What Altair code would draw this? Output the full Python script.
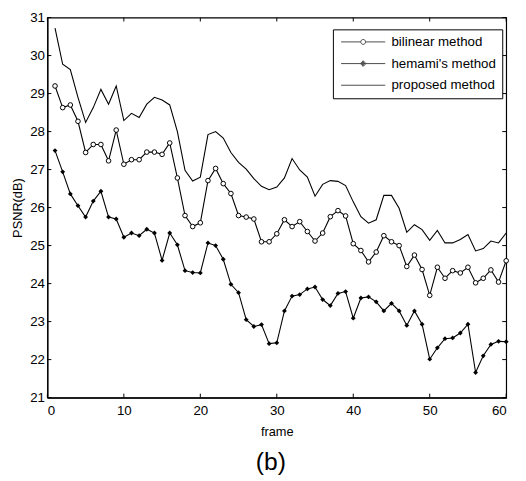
import math
import altair as alt
import pandas as pd

frames = list(range(1, 61))

bilinear = [29.2, 28.63, 28.7, 28.27, 27.45, 27.66, 27.66, 27.23, 28.04, 27.14,
            27.26, 27.26, 27.46, 27.46, 27.4, 27.7, 26.78, 25.79, 25.5, 25.6,
            26.71, 27.03, 26.63, 26.37, 25.79, 25.75, 25.7, 25.1, 25.1, 25.31,
            25.68, 25.5, 25.63, 25.37, 25.12, 25.33, 25.76, 25.92, 25.78, 25.05,
            24.87, 24.57, 24.83, 25.26, 25.1, 25.0, 24.45, 24.75, 24.37, 23.69,
            24.43, 24.14, 24.34, 24.28, 24.43, 24.02, 24.14, 24.36, 24.04, 24.6]

hemami = [27.5, 26.94, 26.36, 26.05, 25.75, 26.17, 26.43, 25.75, 25.7, 25.22,
          25.33, 25.26, 25.43, 25.33, 24.61, 25.33, 25.02, 24.34, 24.29, 24.28,
          25.07, 25.0, 24.64, 23.98, 23.76, 23.05, 22.87, 22.92, 22.42, 22.44,
          23.28, 23.67, 23.71, 23.86, 23.91, 23.58, 23.42, 23.74, 23.79, 23.09,
          23.62, 23.65, 23.52, 23.28, 23.48, 23.28, 22.9, 23.28, 22.93, 22.01,
          22.31, 22.55, 22.57, 22.7, 22.93, 21.66, 22.1, 22.4, 22.48, 22.47]

proposed = [30.72, 29.77, 29.63, 28.9, 28.24, 28.63, 29.11, 28.72, 29.2, 28.29,
            28.48, 28.37, 28.72, 28.9, 28.83, 28.7, 28.0, 26.98, 26.7, 26.8,
            27.92, 28.0, 27.83, 27.45, 27.19, 27.01, 26.76, 26.56, 26.47, 26.54,
            26.78, 27.29, 26.99, 26.8, 26.3, 26.61, 26.71, 26.69, 26.58, 26.15,
            25.76, 25.59, 25.68, 26.32, 26.32, 25.98, 25.35, 25.55, 25.42, 25.14,
            25.4, 25.07, 25.07, 25.16, 25.29, 24.86, 24.92, 25.12, 25.07, 25.33]

series_names = ["bilinear method", "hemami's method", "proposed method"]
x_ticks = [0, 10, 20, 30, 40, 50, 60]
y_ticks = [21, 22, 23, 24, 25, 26, 27, 28, 29, 30, 31]

FONT = "Liberation Sans Narrow, Liberation Sans, Arial, sans-serif"
W, H = 466, 386

rows = []
for name, vals in zip(series_names, [bilinear, hemami, proposed]):
    for f, v in zip(frames, vals):
        rows.append({"frame": f, "psnr": v, "series": name})
df = pd.DataFrame(rows)

xs = alt.Scale(domain=[0, 60], nice=False, zero=False)
ys = alt.Scale(domain=[21, 31], nice=False, zero=False)

x_axis = alt.Axis(values=x_ticks, title="frame", tickSize=0,
                  labelPadding=6, titlePadding=9, titleFontSize=13,
                  titleFontWeight="normal", labelOverlap=False)
y_axis = alt.Axis(values=y_ticks, title="PSNR(dB)", tickSize=0,
                  labelPadding=3, titlePadding=5, titleFontSize=13,
                  titleFontWeight="normal", labelOverlap=False)

base = alt.Chart(df)

lines = base.mark_line(color="black", strokeWidth=1.1).encode(
    x=alt.X("frame:Q", scale=xs, axis=x_axis),
    y=alt.Y("psnr:Q", scale=ys, axis=y_axis),
    detail="series:N",
)

bil_pts = base.transform_filter(alt.datum.series == series_names[0]).mark_point(
    shape="circle", filled=True, fill="white", stroke="black", strokeWidth=1,
    size=22, opacity=1
).encode(x=alt.X("frame:Q", scale=xs, axis=x_axis),
         y=alt.Y("psnr:Q", scale=ys, axis=y_axis))

hem_pts = base.transform_filter(alt.datum.series == series_names[1]).mark_point(
    shape="diamond", filled=True, color="black", size=24, opacity=1
).encode(x=alt.X("frame:Q", scale=xs, axis=x_axis),
         y=alt.Y("psnr:Q", scale=ys, axis=y_axis))

# legend symbols: line sample with marker in the middle
L = 5.6
cr = 0.62
poly = "".join(
    ("M" if i == 0 else "L") + f"{cr*math.cos(2*math.pi*i/16):.3f},{cr*math.sin(2*math.pi*i/16):.3f}"
    for i in range(16)
) + "Z"
sym_bil = f"M{-L},0H{-cr}M{cr},0H{L}" + poly
sym_hem = (f"M{-L},0H{L}M0,-0.72L0.72,0L0,0.72L-0.72,0Z"
           "M0,-0.4L0.4,0L0,0.4L-0.4,0ZM0,-0.6V0.6")
sym_pro = f"M{-L},0H{L}"

legend = alt.Legend(
    title=None, orient="none", legendX=290, legendY=12,
    fillColor="white", strokeColor="black", padding=6,
    symbolSize=64, symbolOffset=18, labelOffset=22,
    symbolStrokeWidth=1, symbolStrokeColor="black",
    labelFont=FONT, labelFontSize=13.5, labelColor="black",
    rowPadding=7, labelLimit=200,
)

legend_layer = base.transform_filter("false").mark_point(
    filled=False, color="black", size=64, strokeWidth=1
).encode(
    x=alt.X("frame:Q", scale=xs, axis=x_axis),
    y=alt.Y("psnr:Q", scale=ys, axis=y_axis),
    shape=alt.Shape("series:N", scale=alt.Scale(domain=series_names,
                                                range=[sym_bil, sym_hem, sym_pro]),
                    legend=legend),
)

tick_x = pd.DataFrame({"t": x_ticks})
tick_y = pd.DataFrame({"t": y_ticks})

xt_bottom = alt.Chart(tick_x).mark_rule(color="black", strokeWidth=1).encode(
    x=alt.X("t:Q", scale=xs, axis=x_axis), y=alt.value(H), y2=alt.value(H - 4))
xt_top = alt.Chart(tick_x).mark_rule(color="black", strokeWidth=1).encode(
    x=alt.X("t:Q", scale=xs, axis=x_axis), y=alt.value(0), y2=alt.value(4))
yt_left = alt.Chart(tick_y).mark_rule(color="black", strokeWidth=1).encode(
    y=alt.Y("t:Q", scale=ys, axis=y_axis), x=alt.value(0), x2=alt.value(4))
yt_right = alt.Chart(tick_y).mark_rule(color="black", strokeWidth=1).encode(
    y=alt.Y("t:Q", scale=ys, axis=y_axis), x=alt.value(W), x2=alt.value(W - 4))

chart = alt.layer(
    lines, bil_pts, hem_pts, legend_layer, xt_bottom, xt_top, yt_left, yt_right
).properties(
    width=W, height=H, autosize="none",
    padding={"left": 40, "top": 6, "right": 12, "bottom": 80},
    title=alt.TitleParams("(b)", orient="bottom", fontSize=25, font="Liberation Sans",
                          fontWeight="normal", color="black", offset=12, dx=-6),
    background="white",
).configure_view(
    stroke="black", strokeWidth=1.2
).configure_axis(
    grid=False, domainColor="black", domainWidth=1.2,
    labelFont=FONT, labelFontSize=13.5, labelColor="black",
    titleFont=FONT, titleColor="black",
)

chart.save("out.html", embed_options={"renderer": "svg", "actions": False})
